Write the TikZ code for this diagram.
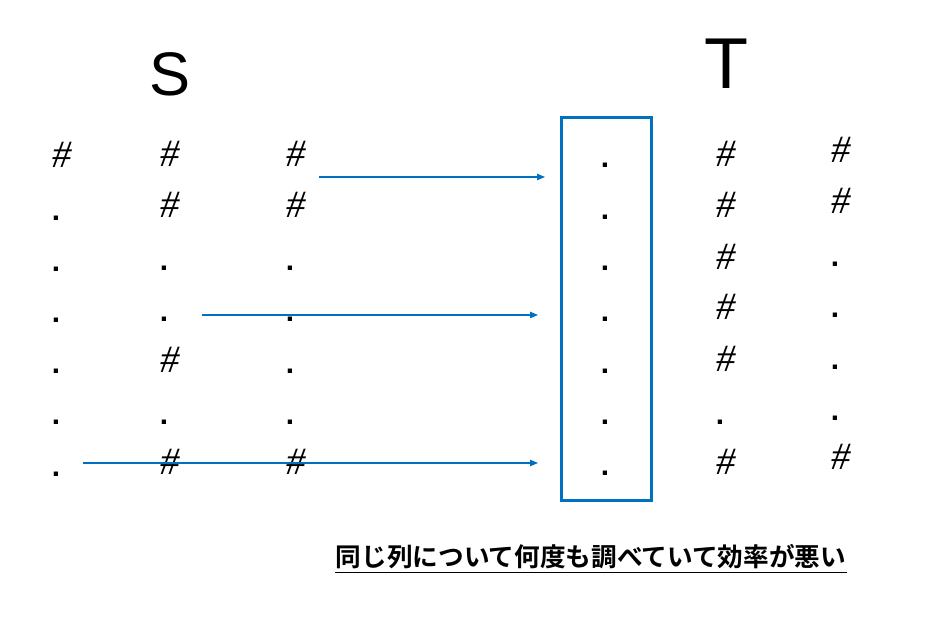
\documentclass[tikz,border=0pt]{standalone}
\usepackage{fontspec}
\newfontfamily\arialfont{Liberation Sans}
\newfontfamily\timesfont{Liberation Serif}
\newfontfamily\jpfont{Noto Sans CJK JP}[BoldFont={Noto Sans CJK JP Bold}]
\usetikzlibrary{arrows.meta}
\definecolor{boxblue}{RGB}{0,112,192}
\tikzset{
	hash/.style={inner sep=0pt,font=\timesfont\itshape\fontsize{22}{22}\selectfont,node contents=\#},
	dotc/.style={inner sep=0pt,xshift=-3.4pt,font=\arialfont\bfseries\fontsize{17}{17}\selectfont,node contents=.},
	scan/.style={boxblue,line width=0.6pt,-{Triangle[length=4.5pt,width=3.6pt]}},
}
\begin{document}
\begin{tikzpicture}[x=0.02cm,y=-0.02cm]
		\useasboundingbox (0,0) rectangle (937,634);
		\node[font=\arialfont\fontsize{35}{35}\selectfont] (S) at (170,74) {S};
		\node[font=\arialfont\fontsize{41}{41}\selectfont] (T) at (726,64) {T};
		
		\foreach \st/\y [count=\i] in {hash/155,dotc/218,dotc/269,dotc/320,dotc/371,dotc/422,dotc/474}
			\node (sa\i) at (62,\y) [\st];
		\foreach \st/\y [count=\i] in {hash/154,hash/205,dotc/268,dotc/319,hash/360,dotc/422,hash/462}
			\node (sb\i) at (170,\y) [\st];
		\foreach \st/\y [count=\i] in {hash/154,hash/205,dotc/268,dotc/319,dotc/371,dotc/422,hash/462}
			\node (sc\i) at (296,\y) [\st];
		
		\node[draw=boxblue,line width=1.7pt,inner sep=0pt,minimum width=51.6pt,minimum height=217.7pt] (colbox) at (606.5,309) {};
		\foreach \y [count=\i] in {165,217,268,319,371,422,473}
			\node (c\i) at (611,\y) [dotc];
		
		\foreach \st/\y [count=\i] in {hash/154,hash/205,hash/257,hash/307,hash/359,dotc/422,hash/462}
			\node (ta\i) at (726,\y) [\st];
		\foreach \st/\y [count=\i] in {hash/150,hash/201,dotc/264,dotc/315,dotc/367,dotc/418,hash/457}
			\node (tb\i) at (841,\y) [\st];
		
		\coordinate (from1) at (319,177); \coordinate (to1) at (545,177);
		\coordinate (from2) at (202,315); \coordinate (to2) at (538,315);
		\coordinate (from3) at (83,463); \coordinate (to3) at (538,463);
		\draw[scan] (from1) -- (to1);
		\draw[scan] (from2) -- (to2);
		\draw[scan] (from3) -- (to3);
		
		\node[inner sep=0pt,font=\jpfont\bfseries\fontsize{14.6}{15}\selectfont] (note) at (591,557) {同じ列について何度も調べていて効率が悪い};
		\draw[line width=1.1pt] ([yshift=-1.6pt]note.south west) -- ([yshift=-1.6pt]note.south east);
	\end{tikzpicture}
\end{document}
